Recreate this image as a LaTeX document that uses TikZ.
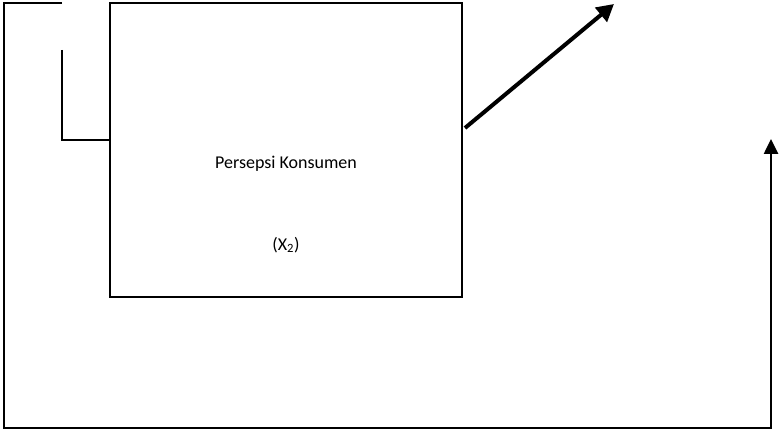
\documentclass[tikz,border=0pt]{standalone}
\usepackage{fontspec}
\setmainfont{Carlito}
\usetikzlibrary{arrows.meta, positioning, calc}

\begin{document}
\begin{tikzpicture}[x=1pt, y=-1pt,
    box/.style={draw=black, line width=1.6pt, minimum width=352pt, minimum height=294pt, inner sep=0pt},
    label/.style={font=\fontsize{18}{22}\selectfont, align=center},
    line/.style={line width=2.6pt, black},
    arrow/.style={-{Triangle[length=15pt, width=14pt]}, line width=2.6pt, black},
    bigarrow/.style={-{Triangle[length=17pt, width=18pt]}, line width=4pt, black}
]
    \useasboundingbox (0,0) rectangle (779,433);

    % Main box
    \node[box] (persepsi) at (286,150) {};
    \node[label] (nama) at (286,164) {Persepsi Konsumen};
    \node[label] (var) at (286,245) {(X\textsubscript{2})};

    % Coordinates for the lines
    \coordinate (topend) at (62,3);
    \coordinate (topleft) at (4,3);
    \coordinate (botleft) at (4,428);
    \coordinate (botright) at (771,428);
    \coordinate (rightend) at (771,139);
    \coordinate (innertop) at (62,50);
    \coordinate (innerbot) at (62,140);
    \coordinate (diagstart) at (465,128);
    \coordinate (diagend) at (614,4);

    % Outer feedback line
    \draw[arrow] (topend) -- (topleft) -- (botleft) -- (botright) -- (rightend);

    % Inner link into the box
    \draw[line] (innertop) -- (innerbot) -- (innerbot -| persepsi.west);

    % Diagonal arrow
    \draw[bigarrow] (diagstart) -- (diagend);
\end{tikzpicture}
\end{document}
